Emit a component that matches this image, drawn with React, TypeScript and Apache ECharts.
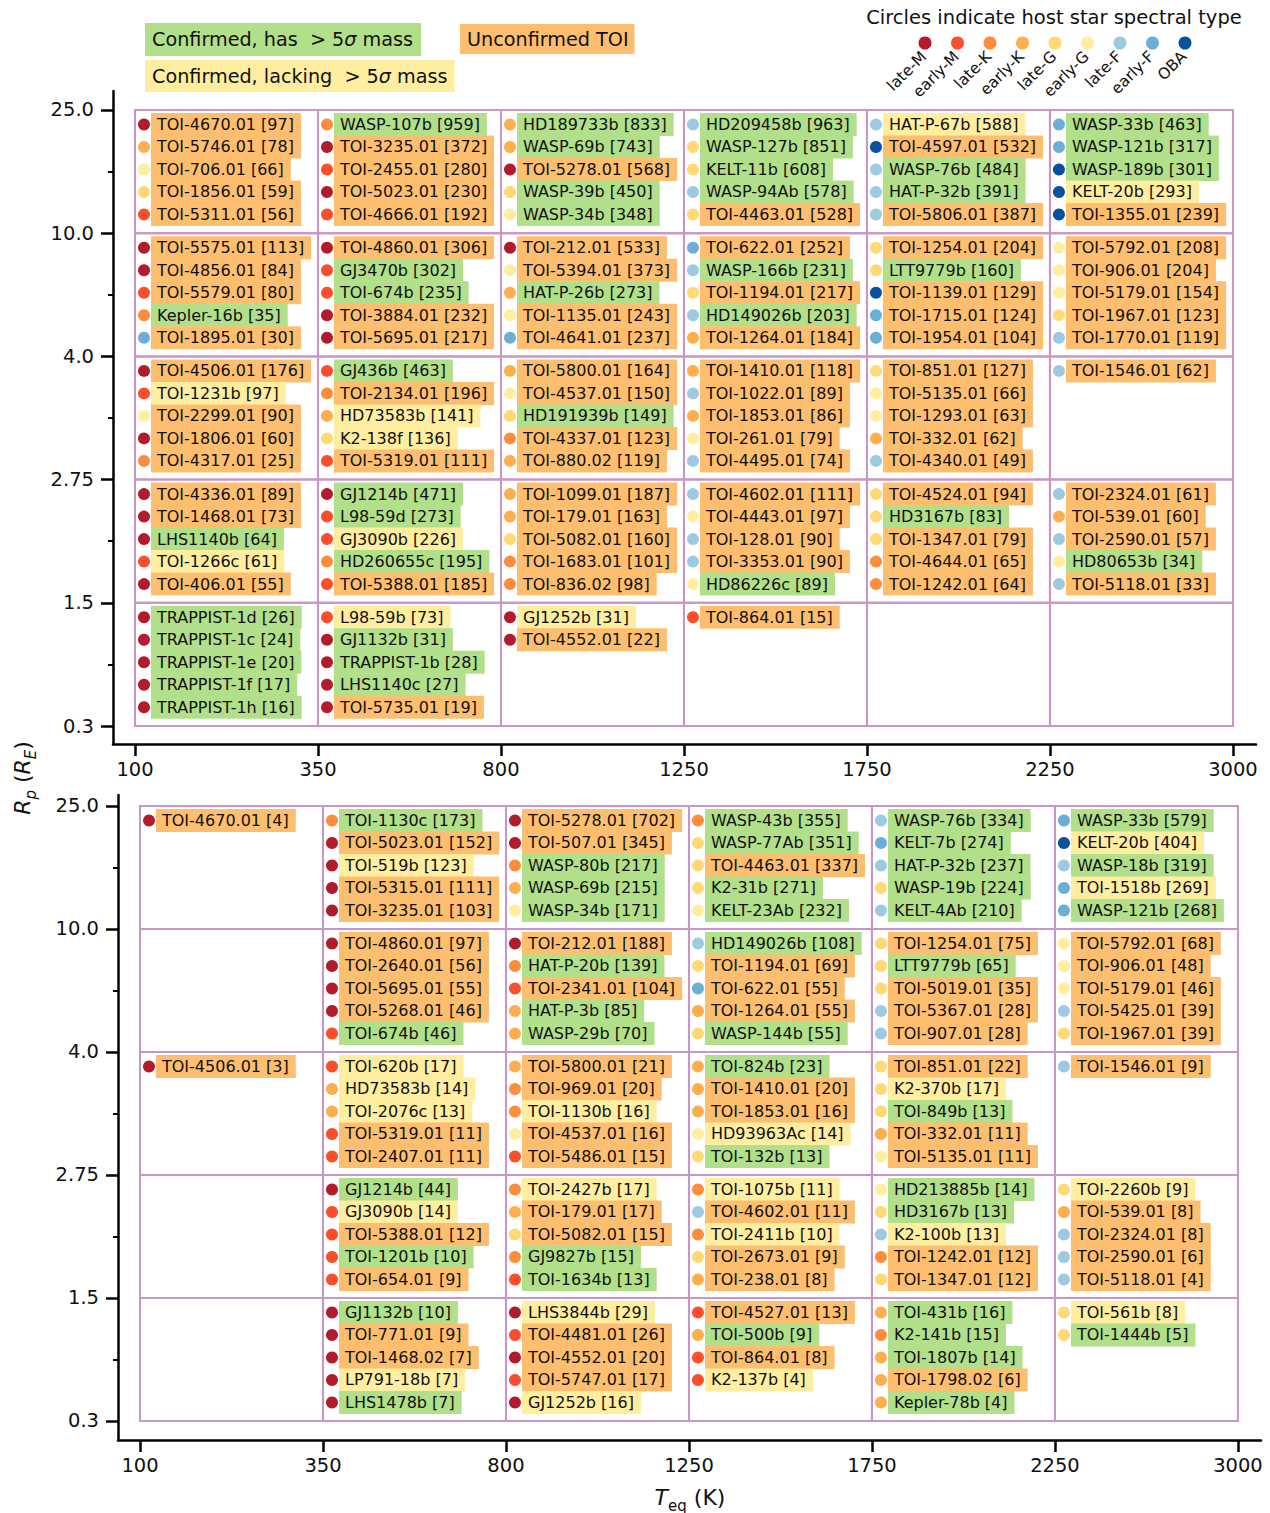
import React, { useEffect, useRef } from "react";
import * as echarts from "echarts";

type Entry = [number, string, number, string, string]; // [radius bin, planet, value, status, spectral type]

const X_TICKS = ["100", "350", "800", "1250", "1750", "2250", "3000"];
const Y_TICKS = ["0.3", "1.5", "2.75", "4.0", "10.0", "25.0"];

const SPECTRAL_TYPES = ["late-M", "early-M", "late-K", "early-K", "late-G", "early-G", "late-F", "early-F", "OBA"];
const SPECTRAL_KEYS = ["LM", "EM", "LK", "EK", "LG", "EG", "LF", "EF", "OBA"];
const SPECTRAL_COLORS = ["#B11B2C", "#FC4E2A", "#FD8D3C", "#FEAE4C", "#FED976", "#FFEDA0", "#9ECAE1", "#6BAED6", "#08519C"];

const STATUS_KEYS = ["H", "L", "U"];
const STATUS_COLORS = ["#B2DF8A", "#FFEDA0", "#FDBF6F"];

// ---------- Top panel ----------
const A_100_350: Entry[] = [
  [4, "TOI-4670.01", 97, "U", "LM"], [4, "TOI-5746.01", 78, "U", "EK"], [4, "TOI-706.01", 66, "U", "EG"], [4, "TOI-1856.01", 59, "U", "LG"], [4, "TOI-5311.01", 56, "U", "EM"],
  [3, "TOI-5575.01", 113, "U", "LM"], [3, "TOI-4856.01", 84, "U", "LM"], [3, "TOI-5579.01", 80, "U", "EM"], [3, "Kepler-16b", 35, "H", "LK"], [3, "TOI-1895.01", 30, "U", "EF"],
  [2, "TOI-4506.01", 176, "U", "LM"], [2, "TOI-1231b", 97, "L", "EM"], [2, "TOI-2299.01", 90, "U", "EG"], [2, "TOI-1806.01", 60, "U", "LM"], [2, "TOI-4317.01", 25, "U", "LK"],
  [1, "TOI-4336.01", 89, "U", "LM"], [1, "TOI-1468.01", 73, "U", "LM"], [1, "LHS1140b", 64, "H", "LM"], [1, "TOI-1266c", 61, "L", "EM"], [1, "TOI-406.01", 55, "U", "LM"],
  [0, "TRAPPIST-1d", 26, "H", "LM"], [0, "TRAPPIST-1c", 24, "H", "LM"], [0, "TRAPPIST-1e", 20, "H", "LM"], [0, "TRAPPIST-1f", 17, "H", "LM"], [0, "TRAPPIST-1h", 16, "H", "LM"],
];
const A_350_800: Entry[] = [
  [4, "WASP-107b", 959, "H", "LK"], [4, "TOI-3235.01", 372, "U", "LM"], [4, "TOI-2455.01", 280, "U", "EM"], [4, "TOI-5023.01", 230, "U", "LM"], [4, "TOI-4666.01", 192, "U", "EM"],
  [3, "TOI-4860.01", 306, "U", "LM"], [3, "GJ3470b", 302, "H", "EM"], [3, "TOI-674b", 235, "H", "EM"], [3, "TOI-3884.01", 232, "U", "LM"], [3, "TOI-5695.01", 217, "U", "LM"],
  [2, "GJ436b", 463, "H", "EM"], [2, "TOI-2134.01", 196, "U", "LK"], [2, "HD73583b", 141, "L", "EK"], [2, "K2-138f", 136, "L", "LG"], [2, "TOI-5319.01", 111, "U", "EM"],
  [1, "GJ1214b", 471, "H", "LM"], [1, "L98-59d", 273, "H", "EM"], [1, "GJ3090b", 226, "L", "EM"], [1, "HD260655c", 195, "H", "LK"], [1, "TOI-5388.01", 185, "U", "EM"],
  [0, "L98-59b", 73, "L", "EM"], [0, "GJ1132b", 31, "H", "LM"], [0, "TRAPPIST-1b", 28, "H", "LM"], [0, "LHS1140c", 27, "H", "LM"], [0, "TOI-5735.01", 19, "U", "LM"],
];
const A_800_1250: Entry[] = [
  [4, "HD189733b", 833, "H", "EK"], [4, "WASP-69b", 743, "H", "EK"], [4, "TOI-5278.01", 568, "U", "LM"], [4, "WASP-39b", 450, "H", "LG"], [4, "WASP-34b", 348, "H", "EG"],
  [3, "TOI-212.01", 533, "U", "LM"], [3, "TOI-5394.01", 373, "U", "EG"], [3, "HAT-P-26b", 273, "H", "EK"], [3, "TOI-1135.01", 243, "U", "EG"], [3, "TOI-4641.01", 237, "U", "EF"],
  [2, "TOI-5800.01", 164, "U", "EK"], [2, "TOI-4537.01", 150, "U", "EG"], [2, "HD191939b", 149, "H", "LG"], [2, "TOI-4337.01", 123, "U", "LK"], [2, "TOI-880.02", 119, "U", "EK"],
  [1, "TOI-1099.01", 187, "U", "EK"], [1, "TOI-179.01", 163, "U", "EK"], [1, "TOI-5082.01", 160, "U", "LG"], [1, "TOI-1683.01", 101, "U", "LK"], [1, "TOI-836.02", 98, "U", "LK"],
  [0, "GJ1252b", 31, "L", "LM"], [0, "TOI-4552.01", 22, "U", "LM"],
];
const A_1250_1750: Entry[] = [
  [4, "HD209458b", 963, "H", "LF"], [4, "WASP-127b", 851, "H", "LG"], [4, "KELT-11b", 608, "H", "LG"], [4, "WASP-94Ab", 578, "H", "LF"], [4, "TOI-4463.01", 528, "U", "LG"],
  [3, "TOI-622.01", 252, "U", "EF"], [3, "WASP-166b", 231, "H", "LF"], [3, "TOI-1194.01", 217, "U", "LG"], [3, "HD149026b", 203, "H", "LF"], [3, "TOI-1264.01", 184, "U", "EK"],
  [2, "TOI-1410.01", 118, "U", "EK"], [2, "TOI-1022.01", 89, "U", "LF"], [2, "TOI-1853.01", 86, "U", "EK"], [2, "TOI-261.01", 79, "U", "EG"], [2, "TOI-4495.01", 74, "U", "LF"],
  [1, "TOI-4602.01", 111, "U", "LF"], [1, "TOI-4443.01", 97, "U", "EG"], [1, "TOI-128.01", 90, "U", "LF"], [1, "TOI-3353.01", 90, "U", "LF"], [1, "HD86226c", 89, "H", "EG"],
  [0, "TOI-864.01", 15, "U", "EM"],
];
const A_1750_2250: Entry[] = [
  [4, "HAT-P-67b", 588, "L", "LF"], [4, "TOI-4597.01", 532, "U", "OBA"], [4, "WASP-76b", 484, "H", "LF"], [4, "HAT-P-32b", 391, "H", "LF"], [4, "TOI-5806.01", 387, "U", "LF"],
  [3, "TOI-1254.01", 204, "U", "LG"], [3, "LTT9779b", 160, "H", "LG"], [3, "TOI-1139.01", 129, "U", "OBA"], [3, "TOI-1715.01", 124, "U", "EF"], [3, "TOI-1954.01", 104, "U", "EF"],
  [2, "TOI-851.01", 127, "U", "LG"], [2, "TOI-5135.01", 66, "U", "EG"], [2, "TOI-1293.01", 63, "U", "EG"], [2, "TOI-332.01", 62, "U", "EK"], [2, "TOI-4340.01", 49, "U", "LF"],
  [1, "TOI-4524.01", 94, "U", "LG"], [1, "HD3167b", 83, "H", "LG"], [1, "TOI-1347.01", 79, "U", "LG"], [1, "TOI-4644.01", 65, "U", "LK"], [1, "TOI-1242.01", 64, "U", "LK"],
];
const A_2250_3000: Entry[] = [
  [4, "WASP-33b", 463, "H", "EF"], [4, "WASP-121b", 317, "H", "EF"], [4, "WASP-189b", 301, "H", "OBA"], [4, "KELT-20b", 293, "L", "OBA"], [4, "TOI-1355.01", 239, "U", "OBA"],
  [3, "TOI-5792.01", 208, "U", "EG"], [3, "TOI-906.01", 204, "U", "EG"], [3, "TOI-5179.01", 154, "U", "EG"], [3, "TOI-1967.01", 123, "U", "LG"], [3, "TOI-1770.01", 119, "U", "LF"],
  [2, "TOI-1546.01", 62, "U", "LF"],
  [1, "TOI-2324.01", 61, "U", "LF"], [1, "TOI-539.01", 60, "U", "EK"], [1, "TOI-2590.01", 57, "U", "LF"], [1, "HD80653b", 34, "H", "EG"], [1, "TOI-5118.01", 33, "U", "LF"],
];

// ---------- Bottom panel ----------
const B_100_350: Entry[] = [
  [4, "TOI-4670.01", 4, "U", "LM"],
  [2, "TOI-4506.01", 3, "U", "LM"],
];
const B_350_800: Entry[] = [
  [4, "TOI-1130c", 173, "H", "LK"], [4, "TOI-5023.01", 152, "U", "LM"], [4, "TOI-519b", 123, "L", "LM"], [4, "TOI-5315.01", 111, "U", "LM"], [4, "TOI-3235.01", 103, "U", "LM"],
  [3, "TOI-4860.01", 97, "U", "LM"], [3, "TOI-2640.01", 56, "U", "LM"], [3, "TOI-5695.01", 55, "U", "LM"], [3, "TOI-5268.01", 46, "U", "LM"], [3, "TOI-674b", 46, "H", "EM"],
  [2, "TOI-620b", 17, "L", "EM"], [2, "HD73583b", 14, "L", "EK"], [2, "TOI-2076c", 13, "L", "EK"], [2, "TOI-5319.01", 11, "U", "EM"], [2, "TOI-2407.01", 11, "U", "EM"],
  [1, "GJ1214b", 44, "H", "LM"], [1, "GJ3090b", 14, "L", "EM"], [1, "TOI-5388.01", 12, "U", "EM"], [1, "TOI-1201b", 10, "H", "EM"], [1, "TOI-654.01", 9, "U", "EM"],
  [0, "GJ1132b", 10, "H", "LM"], [0, "TOI-771.01", 9, "U", "LM"], [0, "TOI-1468.02", 7, "U", "LM"], [0, "LP791-18b", 7, "L", "LM"], [0, "LHS1478b", 7, "H", "LM"],
];
const B_800_1250: Entry[] = [
  [4, "TOI-5278.01", 702, "U", "LM"], [4, "TOI-507.01", 345, "U", "LM"], [4, "WASP-80b", 217, "H", "LK"], [4, "WASP-69b", 215, "H", "EK"], [4, "WASP-34b", 171, "H", "EG"],
  [3, "TOI-212.01", 188, "U", "LM"], [3, "HAT-P-20b", 139, "H", "LK"], [3, "TOI-2341.01", 104, "U", "EM"], [3, "HAT-P-3b", 85, "H", "EK"], [3, "WASP-29b", 70, "H", "EK"],
  [2, "TOI-5800.01", 21, "U", "EK"], [2, "TOI-969.01", 20, "U", "LK"], [2, "TOI-1130b", 16, "L", "LK"], [2, "TOI-4537.01", 16, "U", "EG"], [2, "TOI-5486.01", 15, "U", "EM"],
  [1, "TOI-2427b", 17, "L", "LK"], [1, "TOI-179.01", 17, "U", "EK"], [1, "TOI-5082.01", 15, "U", "LG"], [1, "GJ9827b", 15, "H", "LK"], [1, "TOI-1634b", 13, "H", "EM"],
  [0, "LHS3844b", 29, "L", "LM"], [0, "TOI-4481.01", 26, "U", "EM"], [0, "TOI-4552.01", 20, "U", "LM"], [0, "TOI-5747.01", 17, "U", "EM"], [0, "GJ1252b", 16, "L", "LM"],
];
const B_1250_1750: Entry[] = [
  [4, "WASP-43b", 355, "H", "LK"], [4, "WASP-77Ab", 351, "H", "LG"], [4, "TOI-4463.01", 337, "U", "LG"], [4, "K2-31b", 271, "H", "LG"], [4, "KELT-23Ab", 232, "H", "EG"],
  [3, "HD149026b", 108, "H", "LF"], [3, "TOI-1194.01", 69, "U", "LG"], [3, "TOI-622.01", 55, "U", "EF"], [3, "TOI-1264.01", 55, "U", "EK"], [3, "WASP-144b", 55, "H", "LG"],
  [2, "TOI-824b", 23, "H", "EK"], [2, "TOI-1410.01", 20, "U", "EK"], [2, "TOI-1853.01", 16, "U", "EK"], [2, "HD93963Ac", 14, "L", "EG"], [2, "TOI-132b", 13, "H", "LG"],
  [1, "TOI-1075b", 11, "L", "LK"], [1, "TOI-4602.01", 11, "U", "LF"], [1, "TOI-2411b", 10, "L", "LK"], [1, "TOI-2673.01", 9, "U", "LG"], [1, "TOI-238.01", 8, "U", "EK"],
  [0, "TOI-4527.01", 13, "U", "EM"], [0, "TOI-500b", 9, "H", "EK"], [0, "TOI-864.01", 8, "U", "EM"], [0, "K2-137b", 4, "L", "EM"],
];
const B_1750_2250: Entry[] = [
  [4, "WASP-76b", 334, "H", "LF"], [4, "KELT-7b", 274, "H", "EF"], [4, "HAT-P-32b", 237, "H", "LF"], [4, "WASP-19b", 224, "H", "LG"], [4, "KELT-4Ab", 210, "H", "LF"],
  [3, "TOI-1254.01", 75, "U", "LG"], [3, "LTT9779b", 65, "H", "LG"], [3, "TOI-5019.01", 35, "U", "LG"], [3, "TOI-5367.01", 28, "U", "LF"], [3, "TOI-907.01", 28, "U", "LF"],
  [2, "TOI-851.01", 22, "U", "LG"], [2, "K2-370b", 17, "L", "LG"], [2, "TOI-849b", 13, "H", "LG"], [2, "TOI-332.01", 11, "U", "EK"], [2, "TOI-5135.01", 11, "U", "EG"],
  [1, "HD213885b", 14, "H", "EG"], [1, "HD3167b", 13, "H", "LG"], [1, "K2-100b", 13, "L", "LF"], [1, "TOI-1242.01", 12, "U", "LK"], [1, "TOI-1347.01", 12, "U", "LG"],
  [0, "TOI-431b", 16, "H", "EK"], [0, "K2-141b", 15, "H", "LK"], [0, "TOI-1807b", 14, "H", "EK"], [0, "TOI-1798.02", 6, "U", "EK"], [0, "Kepler-78b", 4, "H", "EK"],
];
const B_2250_3000: Entry[] = [
  [4, "WASP-33b", 579, "H", "EF"], [4, "KELT-20b", 404, "L", "OBA"], [4, "WASP-18b", 319, "H", "LF"], [4, "TOI-1518b", 269, "L", "EF"], [4, "WASP-121b", 268, "H", "EF"],
  [3, "TOI-5792.01", 68, "U", "EG"], [3, "TOI-906.01", 48, "U", "EG"], [3, "TOI-5179.01", 46, "U", "EG"], [3, "TOI-5425.01", 39, "U", "LF"], [3, "TOI-1967.01", 39, "U", "LG"],
  [2, "TOI-1546.01", 9, "U", "LF"],
  [1, "TOI-2260b", 9, "L", "LG"], [1, "TOI-539.01", 8, "U", "EK"], [1, "TOI-2324.01", 8, "U", "LF"], [1, "TOI-2590.01", 6, "U", "LF"], [1, "TOI-5118.01", 4, "U", "LF"],
  [0, "TOI-561b", 8, "L", "LG"], [0, "TOI-1444b", 5, "H", "LG"],
];

const PANEL_TOP: Entry[][] = [A_100_350, A_350_800, A_800_1250, A_1250_1750, A_1750_2250, A_2250_3000];
const PANEL_BOTTOM: Entry[][] = [B_100_350, B_350_800, B_800_1250, B_1250_1750, B_1750_2250, B_2250_3000];

const FONT = "DejaVu Sans";
const GRID_COLOR = "#C994C7";

type LabelItem = { value: number[]; text: string; bg: string; dot: string };

function buildLabels(cols: Entry[][]): LabelItem[] {
  const out: LabelItem[] = [];
  cols.forEach((col, ci) => {
    const counts: Record<number, number> = {};
    col.forEach(([yb, name, val, st, sp]) => {
      const k = counts[yb] ?? 0;
      counts[yb] = k + 1;
      out.push({
        value: [ci, yb, k],
        text: `${name} [${val}]`,
        bg: STATUS_COLORS[STATUS_KEYS.indexOf(st)],
        dot: SPECTRAL_COLORS[SPECTRAL_KEYS.indexOf(sp)],
      });
    });
  });
  return out;
}

function cellData(): number[][] {
  const d: number[][] = [];
  for (let c = 0; c < X_TICKS.length - 1; c++) for (let r = 0; r < Y_TICKS.length - 1; r++) d.push([c, r]);
  return d;
}

export default function App() {
  const ref = useRef<HTMLDivElement>(null);
  useEffect(() => {
    document.body.style.margin = "0";
    if (!ref.current) return;
    const chart = echarts.init(ref.current, null, { renderer: "svg" });
    const xMajor = X_TICKS.map((_, i) => i);
    const yMajor = Y_TICKS.map((_, i) => i);
    const yMinor = Y_TICKS.slice(1).map((_, i) => i + 0.5);

    const grids = [
      { left: 113, top: 91, width: 1143, height: 653, ymin: -0.146, ymax: 5.154 },
      { left: 118, top: 795, width: 1143, height: 645, ymin: -0.1545, ymax: 5.089 },
    ];
    const xmin = -0.1202, xmax = 6.126;

    const axisLine = { show: true, onZero: false, lineStyle: { color: "#000", width: 2.5 } };

    const xAxis = grids.map((_, g) => ({
      type: "value", gridIndex: g, min: xmin, max: xmax,
      axisLine,
      axisTick: { show: true, customValues: xMajor, length: 12, lineStyle: { color: "#000", width: 2.5 } },
      axisLabel: { customValues: xMajor, formatter: (v: number) => X_TICKS[Math.round(v)], fontSize: 19.5, color: "#111", fontFamily: FONT, margin: 15 },
      splitLine: { show: false },
    }));
    const yAxis: any[] = [];
    grids.forEach((gr, g) => {
      yAxis.push({
        type: "value", gridIndex: g, min: gr.ymin, max: gr.ymax, position: "left",
        axisLine,
        axisTick: { show: true, customValues: yMajor, length: 12, lineStyle: { color: "#000", width: 2.5 } },
        axisLabel: { customValues: yMajor, formatter: (v: number) => Y_TICKS[Math.round(v)], fontSize: 19.5, color: "#111", fontFamily: FONT, margin: 19 },
        splitLine: { show: false },
      });
      yAxis.push({
        type: "value", gridIndex: g, min: gr.ymin, max: gr.ymax, position: "left",
        axisLine: { show: false, onZero: false },
        axisTick: { show: true, customValues: yMinor, length: 5, lineStyle: { color: "#000", width: 2 } },
        axisLabel: { show: false },
        splitLine: { show: false },
      });
    });

    const series: any[] = [];
    [PANEL_TOP, PANEL_BOTTOM].forEach((panel, g) => {
      series.push({
        type: "custom", xAxisIndex: g, yAxisIndex: g * 2,
        data: cellData(),
        silent: true,
        renderItem: (_p: any, api: any) => {
          const c = api.value(0), r = api.value(1);
          const a = api.coord([c, r + 1]);
          const b = api.coord([c + 1, r]);
          return {
            type: "rect",
            shape: { x: a[0], y: a[1], width: b[0] - a[0], height: b[1] - a[1] },
            style: { fill: "none", stroke: GRID_COLOR, lineWidth: 2 },
          };
        },
      });
      const items = buildLabels(panel);
      series.push({
        type: "custom", xAxisIndex: g, yAxisIndex: g * 2,
        data: items.map((it) => it.value),
        silent: true,
        renderItem: (p: any, api: any) => {
          const it = items[p.dataIndex];
          const c = api.value(0), r = api.value(1), k = api.value(2);
          const top = api.coord([c, r + 1]);
          const cy = top[1] + 14.5 + k * 22.5;
          return {
            type: "group",
            children: [
              { type: "circle", shape: { cx: top[0] + 9, cy, r: 6 }, style: { fill: it.dot } },
              {
                type: "text", x: top[0] + 16, y: cy,
                style: {
                  text: it.text, fill: "#111", fontSize: 16, fontFamily: FONT,
                  align: "left", verticalAlign: "middle", lineHeight: 16,
                  backgroundColor: it.bg, padding: [3.5, 7, 3.5, 6],
                },
              },
            ],
          };
        },
      });
    });

    const graphic: any[] = [];
    const rich = {
      n: { fontSize: 19.2, fontFamily: FONT, fill: "#111", lineHeight: 21 },
      s: { fontSize: 19.2, fontFamily: FONT, fill: "#111", fontStyle: "italic", lineHeight: 21 },
    };
    graphic.push({
      type: "text", x: 145, y: 23,
      style: { text: "{n|Confirmed, has  > 5}{s|σ}{n| mass}", rich, backgroundColor: STATUS_COLORS[0], padding: [6, 8, 6, 7] },
    });
    graphic.push({
      type: "text", x: 145, y: 60,
      style: { text: "{n|Confirmed, lacking  > 5}{s|σ}{n| mass}", rich, backgroundColor: STATUS_COLORS[1], padding: [5.5, 7, 5.5, 7] },
    });
    graphic.push({
      type: "text", x: 460, y: 24,
      style: { text: "{n|Unconfirmed TOI}", rich, backgroundColor: STATUS_COLORS[2], padding: [4.5, 6, 4.5, 7] },
    });
    graphic.push({
      type: "text", x: 1054, y: 17,
      style: { text: "Circles indicate host star spectral type", fontSize: 19.5, fontFamily: FONT, fill: "#111", align: "center", verticalAlign: "middle" },
    });
    SPECTRAL_TYPES.forEach((name, i) => {
      const cx = 925 + 32.5 * i;
      graphic.push({ type: "circle", shape: { cx, cy: 43, r: 6.5 }, style: { fill: SPECTRAL_COLORS[i] } });
      graphic.push({
        type: "text", x: cx - 1, y: 54, rotation: Math.PI / 4,
        style: { text: name, fontSize: 15.5, fontFamily: FONT, fill: "#111", align: "right", verticalAlign: "middle" },
      });
    });
    // axis titles
    graphic.push({
      type: "text", x: 25, y: 778, rotation: Math.PI / 2,
      style: {
        text: "{i|R}{si|p}{n| (}{i|R}{si|E}{n|)}",
        align: "center", verticalAlign: "middle",
        rich: {
          i: { fontSize: 22, fontFamily: FONT, fontStyle: "italic", fill: "#111", verticalAlign: "bottom", padding: [0, 0, 5, 0], lineHeight: 26 },
          n: { fontSize: 22, fontFamily: FONT, fill: "#111", verticalAlign: "bottom", padding: [0, 0, 5, 0], lineHeight: 26 },
          si: { fontSize: 15, fontFamily: FONT, fontStyle: "italic", fill: "#111", verticalAlign: "bottom", lineHeight: 18 },
        },
      },
    });
    graphic.push({
      type: "text", x: 690, y: 1500,
      style: {
        text: "{i|T}{s|eq}{n| (K)}",
        align: "center", verticalAlign: "middle",
        rich: {
          i: { fontSize: 22, fontFamily: FONT, fontStyle: "italic", fill: "#111", verticalAlign: "bottom", padding: [0, 0, 5, 0], lineHeight: 26 },
          n: { fontSize: 22, fontFamily: FONT, fill: "#111", verticalAlign: "bottom", padding: [0, 0, 5, 0], lineHeight: 26 },
          s: { fontSize: 15, fontFamily: FONT, fill: "#111", verticalAlign: "bottom", lineHeight: 18 },
        },
      },
    });

    chart.setOption({
      animation: false,
      backgroundColor: "#fff",
      textStyle: { fontFamily: FONT },
      grid: grids.map((g) => ({ left: g.left, top: g.top, width: g.width, height: g.height, containLabel: false })),
      xAxis,
      yAxis,
      series,
      graphic,
    });
    return () => chart.dispose();
  }, []);
  return <div ref={ref} style={{ width: 1270, height: 1513 }} />;
}
